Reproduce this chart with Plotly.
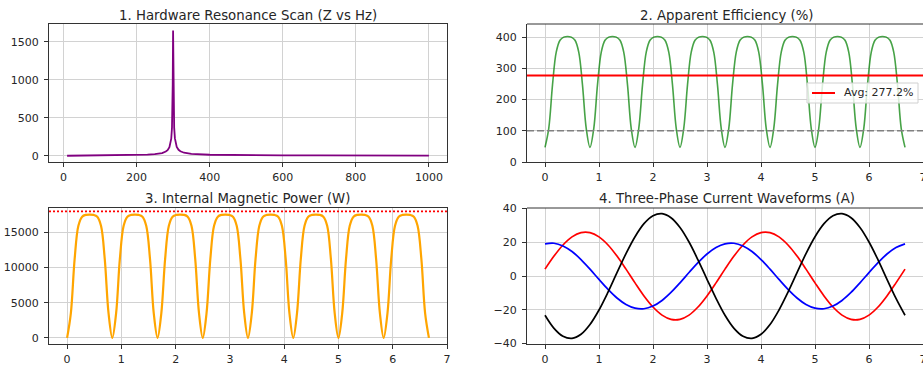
import plotly.graph_objects as go

# ---------------- data ----------------
# Panel 1: resonance scan
freq_hz = [10, 50, 100, 150, 200, 230, 250, 260, 270, 280, 285, 290, 293, 295, 297, 298, 299,
           300, 301, 302, 303, 305, 307, 310, 315, 320, 330, 350, 400, 450, 500, 600, 700, 800, 900, 1000]
impedance_z = [0.25, 1.3, 2.85, 5.06, 9.1, 14.1, 20.7, 26.4, 36, 55, 74, 112, 160, 224, 368, 536, 936,
               1645, 938, 539, 370, 228, 164, 115, 78, 59, 40, 24.5, 13, 9.1, 7.1, 5.06, 4.0, 3.3, 2.85, 2.5]

# Panels 2 and 3: time base
time_s = [0, 0.069, 0.139, 0.208, 0.278, 0.347, 0.417, 0.486, 0.556, 0.625, 0.694, 0.764,
          0.833, 0.903, 0.972, 1.042, 1.111, 1.181, 1.25, 1.319, 1.389, 1.458, 1.528, 1.597,
          1.667, 1.736, 1.806, 1.875, 1.944, 2.014, 2.083, 2.153, 2.222, 2.292, 2.361, 2.431,
          2.5, 2.569, 2.639, 2.708, 2.778, 2.847, 2.917, 2.986, 3.056, 3.125, 3.194, 3.264,
          3.333, 3.403, 3.472, 3.542, 3.611, 3.681, 3.75, 3.819, 3.889, 3.958, 4.028, 4.097,
          4.167, 4.236, 4.306, 4.375, 4.444, 4.514, 4.583, 4.653, 4.722, 4.792, 4.861, 4.931,
          5.0, 5.069, 5.139, 5.208, 5.278, 5.347, 5.417, 5.486, 5.556, 5.625, 5.694, 5.764,
          5.833, 5.903, 5.972, 6.042, 6.111, 6.181, 6.25, 6.319, 6.389, 6.458, 6.528, 6.597,
          6.667]

efficiency_pct = [47, 107, 247, 352, 390, 400, 402, 400, 390, 352, 247, 107,
                  47, 107, 247, 352, 390, 400, 402, 400, 390, 352, 247, 107,
                  47, 107, 247, 352, 390, 400, 402, 400, 390, 352, 247, 107,
                  47, 107, 247, 352, 390, 400, 402, 400, 390, 352, 247, 107,
                  47, 107, 247, 352, 390, 400, 402, 400, 390, 352, 247, 107,
                  47, 107, 247, 352, 390, 400, 402, 400, 390, 352, 247, 107,
                  47, 107, 247, 352, 390, 400, 402, 400, 390, 352, 247, 107,
                  47, 107, 247, 352, 390, 400, 402, 400, 390, 352, 247, 107,
                  47]
avg_efficiency = 277.2
unity_efficiency = 100

magnetic_power_w = [0, 3490, 11200, 15950, 17250, 17505, 17550, 17505, 17250, 15950, 11200, 3490,
                    0, 3490, 11200, 15950, 17250, 17505, 17550, 17505, 17250, 15950, 11200, 3490,
                    0, 3490, 11200, 15950, 17250, 17505, 17550, 17505, 17250, 15950, 11200, 3490,
                    0, 3490, 11200, 15950, 17250, 17505, 17550, 17505, 17250, 15950, 11200, 3490,
                    0, 3490, 11200, 15950, 17250, 17505, 17550, 17505, 17250, 15950, 11200, 3490,
                    0, 3490, 11200, 15950, 17250, 17505, 17550, 17505, 17250, 15950, 11200, 3490,
                    0, 3490, 11200, 15950, 17250, 17505, 17550, 17505, 17250, 15950, 11200, 3490,
                    0, 3490, 11200, 15950, 17250, 17505, 17550, 17505, 17250, 15950, 11200, 3490,
                    0]
power_limit_w = 18000

# Panel 4: three-phase currents
phase_time_s = [0, 0.167, 0.333, 0.5, 0.667, 0.833, 1.0, 1.167, 1.333, 1.5, 1.667, 1.833, 2.0,
                2.167, 2.333, 2.5, 2.667, 2.833, 3.0, 3.167, 3.333, 3.5, 3.667, 3.833, 4.0, 4.167,
                4.333, 4.5, 4.667, 4.833, 5.0, 5.167, 5.333, 5.5, 5.667, 5.833, 6.0, 6.167, 6.333,
                6.5, 6.667]
current_red = [4.07, 11.80, 18.38, 23.17, 25.68, 25.68, 23.17, 18.38, 11.80, 4.07,
               -4.07, -11.80, -18.38, -23.17, -25.68, -25.68, -23.17, -18.38, -11.80, -4.07,
               4.07, 11.80, 18.38, 23.17, 25.68, 25.68, 23.17, 18.38, 11.80, 4.07,
               -4.07, -11.80, -18.38, -23.17, -25.68, -25.68, -23.17, -18.38, -11.80, -4.07,
               4.07]
current_blue = [19.07, 19.39, 17.81, 14.49, 9.75, 4.05, -2.04, -7.93, -13.05, -16.89,
                -19.07, -19.39, -17.81, -14.49, -9.75, -4.05, 2.04, 7.93, 13.05, 16.89,
                19.07, 19.39, 17.81, 14.49, 9.75, 4.05, -2.04, -7.93, -13.05, -16.89,
                -19.07, -19.39, -17.81, -14.49, -9.75, -4.05, 2.04, 7.93, 13.05, 16.89,
                19.07]
current_black = [-23.28, -31.03, -35.74, -36.95, -34.54, -28.75, -20.15, -9.58, 1.94, 13.26,
                 23.28, 31.03, 35.74, 36.95, 34.54, 28.75, 20.15, 9.58, -1.94, -13.26,
                 -23.28, -31.03, -35.74, -36.95, -34.54, -28.75, -20.15, -9.58, 1.94, 13.26,
                 23.28, 31.03, 35.74, 36.95, 34.54, 28.75, 20.15, 9.58, -1.94, -13.26,
                 -23.28]

titles = ["1. Hardware Resonance Scan (Z vs Hz)", "2. Apparent Efficiency (%)",
          "3. Internal Magnetic Power (W)", "4. Three-Phase Current Waveforms (A)"]

# ---------------- layout helpers ----------------
W, H = 923, 366
FONT = "DejaVu Sans"
TXT = "#262626"


def fx(p):
    return p / W


def fy(p):
    return 1 - p / H


left_dom = [fx(49), fx(447)]
right_dom = [fx(527), 1.0]
top_dom = [fy(162), fy(24)]
bot_dom = [fy(344), fy(208)]

fig = go.Figure()

fig.add_trace(go.Scatter(x=freq_hz, y=impedance_z, mode="lines",
                         line=dict(color="#800080", width=1.8),
                         xaxis="x", yaxis="y", showlegend=False))
fig.add_trace(go.Scatter(x=time_s, y=efficiency_pct, mode="lines",
                         line=dict(color="rgba(0,128,0,0.72)", width=1.6, shape="spline"),
                         xaxis="x2", yaxis="y2", showlegend=False))
fig.add_trace(go.Scatter(x=time_s, y=magnetic_power_w, mode="lines",
                         line=dict(color="#FFA500", width=2.2, shape="spline"),
                         xaxis="x3", yaxis="y3", showlegend=False))
for ys, col in [(current_red, "#ff0000"), (current_blue, "#0000ff"), (current_black, "#000000")]:
    fig.add_trace(go.Scatter(x=phase_time_s, y=ys, mode="lines",
                             line=dict(color=col, width=1.7, shape="spline"),
                             xaxis="x4", yaxis="y4", showlegend=False))

axis_common = dict(
    showgrid=True, gridcolor="#d2d2d2", gridwidth=1, zeroline=False,
    showline=True, linecolor="#333333", linewidth=1,
    ticks="outside", ticklen=4, tickwidth=1, tickcolor="#333333",
    tickfont=dict(family=FONT, size=11, color=TXT),
    fixedrange=True, tickformat="d", automargin=False,
)
xcommon = dict(axis_common, ticklabelstandoff=1, ticklabeloverflow="allow")
ycommon = dict(axis_common, ticklabelstandoff=3)

fig.update_layout(
    width=W, height=H, autosize=False,
    margin=dict(l=0, r=0, t=0, b=0, pad=0, autoexpand=False),
    paper_bgcolor="white", plot_bgcolor="white",
    showlegend=False,
    font=dict(family=FONT, size=11, color=TXT),
    xaxis=dict(xcommon, domain=left_dom, anchor="y", range=[-39.5, 1049.5],
               tick0=0, dtick=200, mirror=True),
    yaxis=dict(ycommon, domain=top_dom, anchor="x", range=[-82, 1732],
               tick0=0, dtick=500, mirror=True),
    xaxis2=dict(xcommon, domain=right_dom, anchor="y2", range=[-1 / 3, 7],
                tick0=0, dtick=1, mirror=False),
    yaxis2=dict(ycommon, domain=top_dom, anchor="x2", range=[0, 442],
                tick0=0, dtick=100, mirror=False),
    xaxis3=dict(xcommon, domain=left_dom, anchor="y3", range=[-1 / 3, 7],
                tick0=0, dtick=1, mirror=True),
    yaxis3=dict(ycommon, domain=bot_dom, anchor="x3", range=[-870, 18480],
                tick0=0, dtick=5000, mirror=True),
    xaxis4=dict(xcommon, domain=right_dom, anchor="y4", range=[-1 / 3, 7],
                tick0=0, dtick=1, mirror=False),
    yaxis4=dict(ycommon, domain=bot_dom, anchor="x4", range=[-40.3, 40.3],
                tick0=0, dtick=20, mirror=False),
)

shapes = []
# reference lines
shapes.append(dict(type="line", xref="x2 domain", yref="y2", x0=0, x1=1,
                   y0=unity_efficiency, y1=unity_efficiency, layer="above",
                   line=dict(color="#808080", width=1.5, dash="7px,3px")))
shapes.append(dict(type="line", xref="x2 domain", yref="y2", x0=0, x1=1,
                   y0=avg_efficiency, y1=avg_efficiency, layer="above",
                   line=dict(color="#ff0000", width=2)))
shapes.append(dict(type="line", xref="x3 domain", yref="y3", x0=0, x1=1,
                   y0=power_limit_w, y1=power_limit_w, layer="above",
                   line=dict(color="#ff0000", width=1.6, dash="2px,2px")))
# top spines of the right-hand panels (right spine is off-canvas)
for xr, yr in [("x2 domain", "y2 domain"), ("x4 domain", "y4 domain")]:
    shapes.append(dict(type="line", xref=xr, yref=yr, x0=0, x1=1, y0=1, y1=1,
                       layer="above", line=dict(color="#333333", width=1)))
# legend box for panel 2
shapes.append(dict(type="rect", xref="paper", yref="paper",
                   x0=fx(807), x1=fx(918), y0=fy(103), y1=fy(83), layer="above",
                   fillcolor="rgba(255,255,255,0.8)", line=dict(color="#d0d0d0", width=1)))
shapes.append(dict(type="line", xref="paper", yref="paper",
                   x0=fx(812), x1=fx(835), y0=fy(93), y1=fy(93), layer="above",
                   line=dict(color="#ff0000", width=2)))
fig.update_layout(shapes=shapes)

annotations = []
title_pos = [((49 + 447) / 2, 15), ((527 + 927) / 2, 15), ((49 + 447) / 2, 198), ((527 + 927) / 2, 198)]
for t, (cx, cy) in zip(titles, title_pos):
    annotations.append(dict(text=t, xref="paper", yref="paper", x=fx(cx), y=fy(cy),
                            xanchor="center", yanchor="middle", showarrow=False,
                            font=dict(family=FONT, size=13.3, color=TXT)))
annotations.append(dict(text=f"Avg: {avg_efficiency:.1f}%", xref="paper", yref="paper",
                        x=fx(842), y=fy(93), xanchor="left", yanchor="middle", showarrow=False,
                        font=dict(family=FONT, size=11, color=TXT)))
fig.update_layout(annotations=annotations)

fig.write_html("out.html",
               config={"displayModeBar": False, "responsive": False},
               post_script="document.body.style.margin='0';document.body.style.overflow='hidden';")
